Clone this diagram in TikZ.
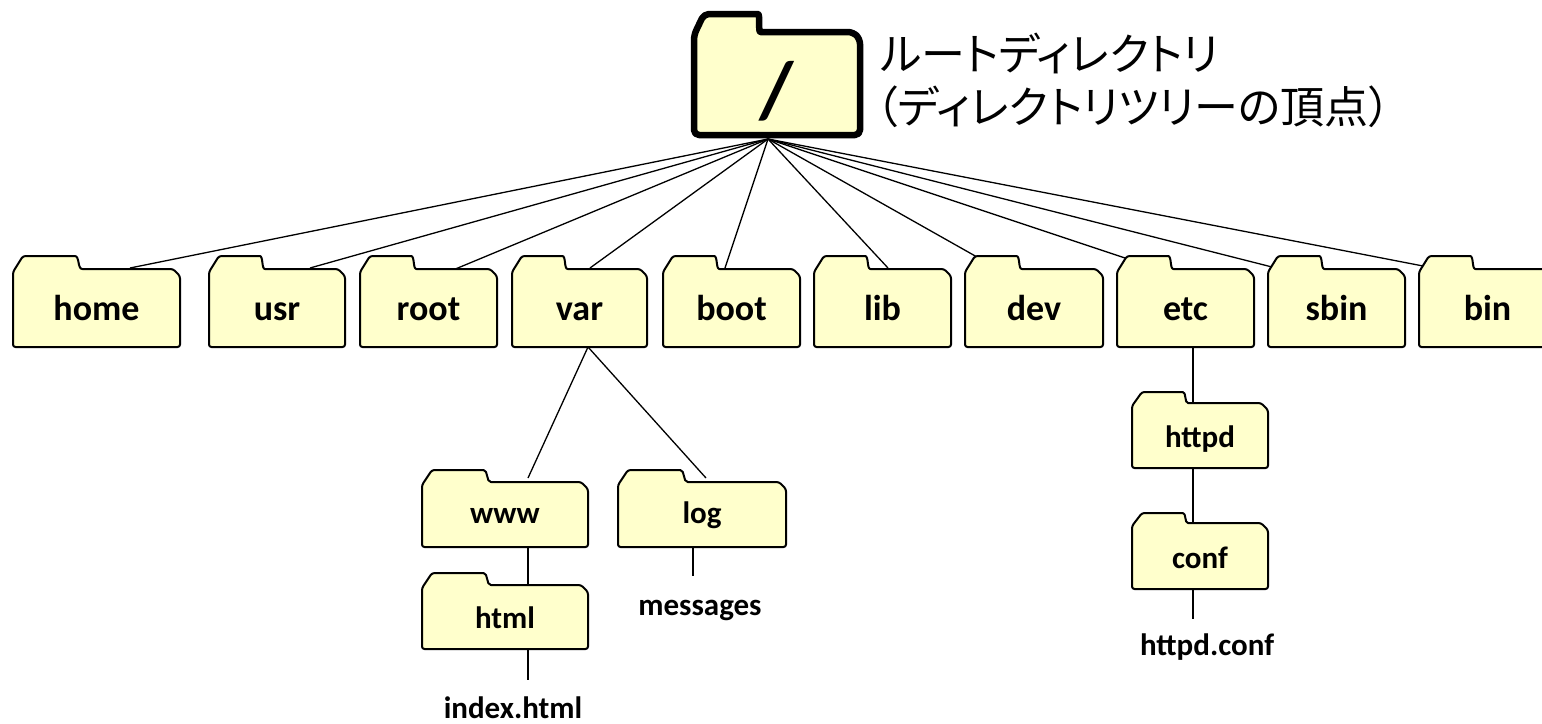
\documentclass[tikz,border=0pt]{standalone}
\usepackage{fontspec}
\setmainfont{Carlito}
\newfontfamily\jpfont[RawFeature=+palt]{Noto Sans CJK JP}
\definecolor{fldfill}{HTML}{FFFFCC}
\tikzset{
  fld/.style={draw=black, fill=fldfill, line width=2pt, rounded corners=2.5pt, line join=round},
  rootfld/.style={draw=black, fill=fldfill, line width=6.5pt, rounded corners=5pt, line join=round},
  conn/.style={draw=black, line width=1.3pt},
  biglbl/.style={font=\fontsize{36}{40}\selectfont\bfseries, anchor=base, inner sep=0pt},
  smalllbl/.style={font=\fontsize{31}{36}\selectfont\bfseries, anchor=base, inner sep=0pt},
  jplbl/.style={font=\jpfont\fontsize{44}{50}\selectfont, anchor=base west, inner sep=0pt}
}
% folder outline: options, L, R, tab top, body top, bottom
\newcommand\drawfolder[6][fld]{%
  \path[#1] (#2,#6) -- (#2,{#5+3}) -- ({#2+10},#4) -- ({#2+0.355*(#3-#2)},#4)
    .. controls ({#2+0.40*(#3-#2)},#4) and ({#2+0.385*(#3-#2)},#5) .. ({#2+0.43*(#3-#2)},#5)
    -- ({#3-7},#5) -- (#3,{#5+7}) -- (#3,#6) -- cycle;}
\begin{document}
\begin{tikzpicture}[x=1pt,y=-1pt]
\useasboundingbox (0,0) rectangle (1542,723);
\clip (0,0) rectangle (1542,723);
% connection points
\coordinate (rootA) at (768,139);
\coordinate (homeC) at (130,268);
\coordinate (usrC) at (310,268);
\coordinate (rootC) at (453,270);
\coordinate (varC) at (590,268);
\coordinate (bootC) at (725,268);
\coordinate (libC) at (888,268);
\coordinate (devC) at (977,257);
\coordinate (etcC) at (1125,258);
\coordinate (sbinC) at (1272,267);
\coordinate (binC) at (1423,266);
\coordinate (varB) at (588,347);
\coordinate (wwwC) at (528,478);
\coordinate (logC) at (706,478);
\coordinate (wwwB) at (528,547);
\coordinate (htmlT) at (528,585);
\coordinate (htmlB) at (528,649);
\coordinate (indexT) at (528,680);
\coordinate (logB) at (693,547);
\coordinate (msgT) at (693,576);
\coordinate (etcB) at (1193,347);
\coordinate (httpdT) at (1193,403);
\coordinate (httpdB) at (1193,468);
\coordinate (confT) at (1193,523);
\coordinate (confB) at (1193,589);
\coordinate (hcT) at (1193,619);
% connectors
\foreach \c in {homeC,usrC,rootC,varC,bootC,libC,devC,etcC,sbinC,binC}
  \draw[conn] (rootA) -- (\c);
\draw[conn] (varB) -- (wwwC);
\draw[conn] (varB) -- (logC);
\draw[conn] (wwwB) -- (htmlT);
\draw[conn] (htmlB) -- (indexT);
\draw[conn] (logB) -- (msgT);
\draw[conn] (etcB) -- (httpdT);
\draw[conn] (httpdB) -- (confT);
\draw[conn] (confB) -- (hcT);
% root folder
\drawfolder[rootfld]{694}{860}{14}{32}{135}
\node[font=\fontsize{80}{84}\selectfont\bfseries, anchor=base, inner sep=0pt] (slash) at (777,117) {/};
\node[jplbl] (jp1) at (880,70) {ルートディレクトリ};
\node[jplbl] (jp2) at (876,123) {（ディレクトリツリーの頂点）};
% top-level folders
\drawfolder{13}{180}{256}{269}{347}
\node[biglbl] (home) at (96.5,320) {home};
\drawfolder{209}{345}{256}{269}{347}
\node[biglbl] (usr) at (277,320) {usr};
\drawfolder{360}{497}{256}{269}{347}
\node[biglbl] (root) at (428.5,320) {root};
\drawfolder{512}{647}{256}{269}{347}
\node[biglbl] (var) at (579.5,320) {var};
\drawfolder{663}{800}{256}{269}{347}
\node[biglbl] (boot) at (731.5,320) {boot};
\drawfolder{814}{951}{256}{269}{347}
\node[biglbl] (lib) at (882.5,320) {lib};
\drawfolder{965}{1103}{256}{269}{347}
\node[biglbl] (dev) at (1034,320) {dev};
\drawfolder{1117}{1254}{256}{269}{347}
\node[biglbl] (etc) at (1185.5,320) {etc};
\drawfolder{1268}{1405}{256}{269}{347}
\node[biglbl] (sbin) at (1336.5,320) {sbin};
\drawfolder{1419}{1556}{256}{269}{347}
\node[biglbl] (bin) at (1487.5,320) {bin};
% second level
\drawfolder{422}{588}{470}{482}{547}
\node[smalllbl] (www) at (505,523) {www};
\drawfolder{618}{786}{470}{482}{547}
\node[smalllbl] (log) at (702,523) {log};
\drawfolder{422}{588}{573}{585}{649}
\node[smalllbl] (html) at (505,628) {html};
\drawfolder{1132}{1268}{392}{403}{468}
\node[smalllbl] (httpd) at (1200,447) {httpd};
\drawfolder{1132}{1268}{513}{523}{589}
\node[smalllbl] (conf) at (1200,568) {conf};
% files
\node[smalllbl] (messages) at (700,615) {messages};
\node[smalllbl] (index) at (513,718) {index.html};
\node[smalllbl] (hconf) at (1207,655) {httpd.conf};
\end{tikzpicture}
\end{document}
